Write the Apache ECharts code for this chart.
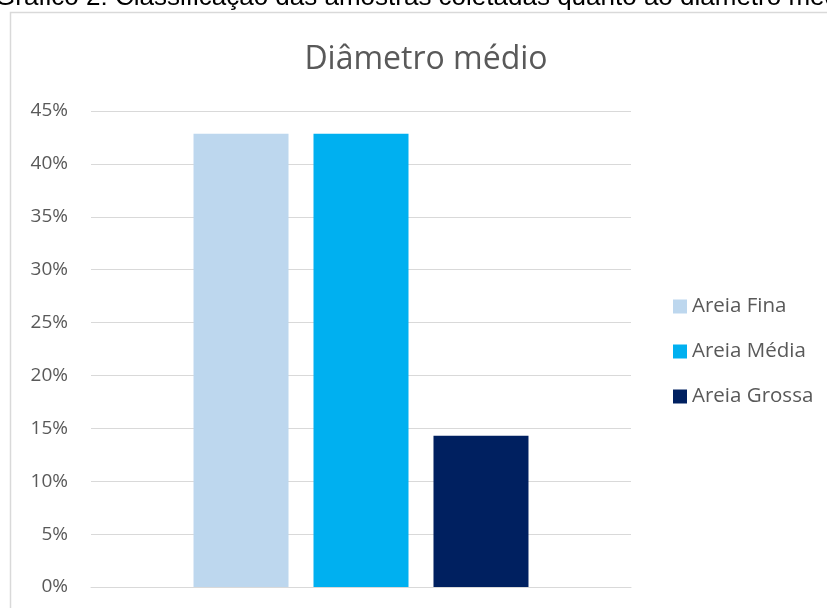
<!DOCTYPE html>
<html>
<head>
<meta charset="utf-8">
<script src="https://cdn.jsdelivr.net/npm/echarts@6/dist/echarts.min.js"></script>
<style>
html,body{margin:0;padding:0;background:#fff;}
#chart{width:827px;height:608px;}
</style>
</head>
<body>
<div id="chart"></div>
<script>
const chartTitle = 'Diâmetro médio';
const captionText = 'Gráfico 2: Classificação das amostras coletadas quanto ao diâmetro médio';
const seriesNames = ['Areia Fina', 'Areia Média', 'Areia Grossa'];
const seriesValues = [42.86, 42.86, 14.29];
const seriesColors = ['#BDD7EE', '#00B0F0', '#002060'];
const yMin = 0, yMax = 45, yInterval = 5;

const FONT = '"Open Sans", "Noto Sans", sans-serif';
const chart = echarts.init(document.getElementById('chart'));

const series = seriesNames.map((name, i) => ({
  name: name,
  type: 'bar',
  data: [seriesValues[i]],
  barWidth: 95,
  barGap: '26.3%',
  itemStyle: { color: seriesColors[i] }
}));

chart.setOption({
  animation: false,
  backgroundColor: '#fff',
  title: {
    text: chartTitle,
    left: 421,
    textAlign: 'center',
    top: 39,
    textStyle: { fontFamily: FONT, fontSize: 32, fontWeight: 'normal', color: '#595959' }
  },
  legend: {
    orient: 'vertical',
    left: 668,
    top: 291,
    itemWidth: 14,
    itemHeight: 14,
    itemGap: 24,
    icon: 'rect',
    data: seriesNames,
    textStyle: { fontFamily: FONT, fontSize: 20.5, color: '#595959' }
  },
  grid: { left: 91, right: 196, top: 111, bottom: 21, containLabel: false },
  xAxis: {
    type: 'category',
    data: [''],
    axisLine: { show: true, lineStyle: { color: '#d9d9d9', width: 1 } },
    axisTick: { show: false },
    axisLabel: { show: false }
  },
  yAxis: {
    type: 'value',
    min: yMin, max: yMax, interval: yInterval,
    axisLine: { show: false },
    axisTick: { show: false },
    splitLine: { lineStyle: { color: '#d9d9d9', width: 1 } },
    axisLabel: {
      formatter: '{value}%',
      margin: 23,
      fontFamily: FONT, fontSize: 19, color: '#595959'
    }
  },
  graphic: [
    {
      type: 'rect',
      shape: { x: 10.5, y: 12.5, width: 900, height: 700 },
      style: { fill: 'none', stroke: '#d9d9d9', lineWidth: 1.5 },
      silent: true
    },
    {
      type: 'text',
      x: -5, y: 11,
      style: {
        text: captionText,
        font: '26px "Liberation Sans", Arial, sans-serif',
        fill: '#000',
        verticalAlign: 'bottom'
      },
      silent: true
    }
  ],
  series: series
});
</script>
</body>
</html>
